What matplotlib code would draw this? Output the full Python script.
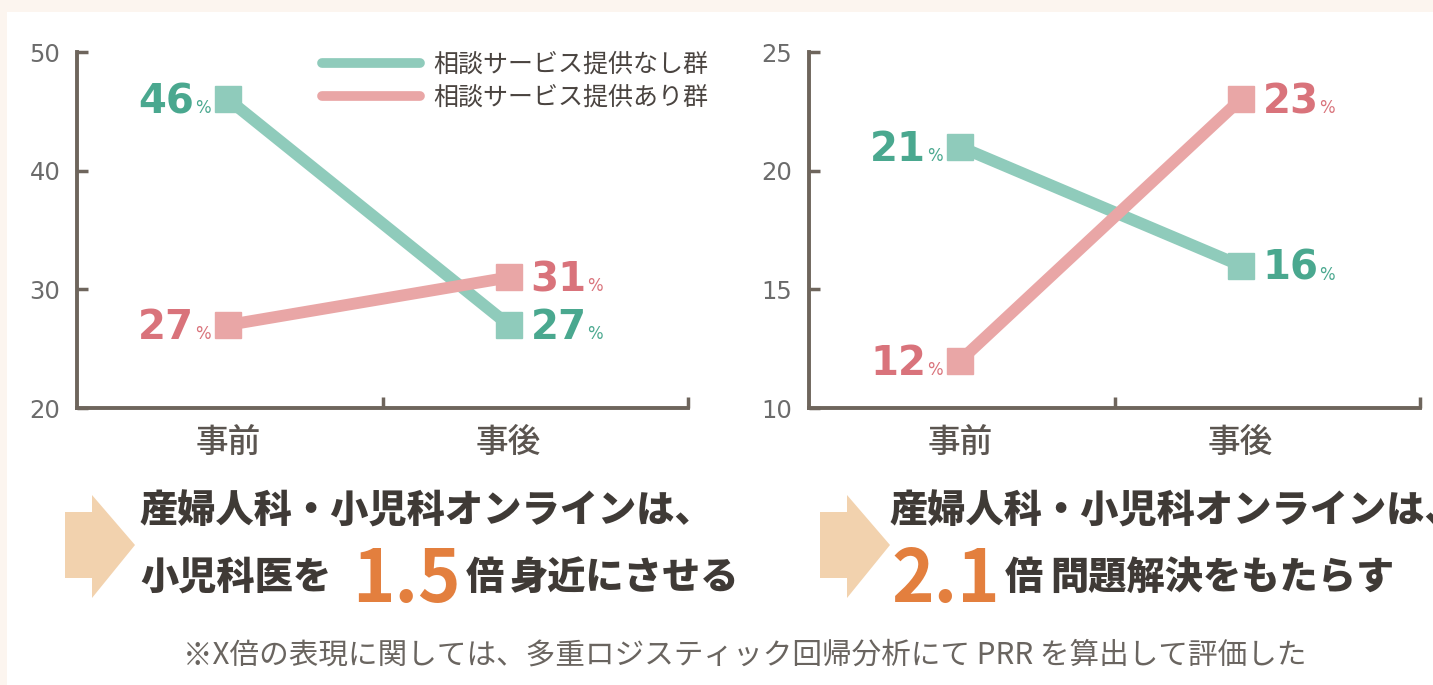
import matplotlib
matplotlib.use("Agg")
import matplotlib.pyplot as plt
from matplotlib.patches import Rectangle, Polygon
from matplotlib.lines import Line2D

plt.rcParams['font.family'] = ['Noto Sans CJK JP', 'DejaVu Sans']

# data
categories = ['事前', '事後']
series_names = ['相談サービス提供なし群', '相談サービス提供あり群']
left_none = [46, 27]     # 小児科医を身近に
left_with = [27, 31]
right_none = [21, 16]    # 問題解決
right_with = [12, 23]
left_ylim = (20, 50)
left_yticks = [20, 30, 40, 50]
right_ylim = (10, 25)
right_yticks = [10, 15, 20, 25]

TEAL = '#8fcbbb'
TEAL_TXT = '#4aa88f'
PINK = '#e9a6a6'
PINK_TXT = '#d9737b'
AXC = '#6e655c'
ORANGE = '#e37f3e'
DARK = '#3f3a36'

W, H = 1433, 685
fig = plt.figure(figsize=(W / 100, H / 100), dpi=100, facecolor='#fcf5ef')
fig.add_artist(Rectangle((7 / W, 0), 1, 1 - 12 / H, transform=fig.transFigure,
                         facecolor='white', edgecolor='none', zorder=-10))


def fx(x):
    return x / W


def fy(y):
    return 1 - y / H


def label(ax, x, y, val, color, side):
    if side == 'left':
        ax.annotate('%', (x, y), xytext=(-18, -14), textcoords='offset pixels',
                    ha='right', va='baseline', color=color, fontsize=12,
                    family='DejaVu Sans')
        ax.annotate(str(val), (x, y), xytext=(-34, -14), textcoords='offset pixels',
                    ha='right', va='baseline', color=color, fontsize=29,
                    fontweight='bold', family='DejaVu Sans')
    else:
        ax.annotate(str(val), (x, y), xytext=(22, -14), textcoords='offset pixels',
                    ha='left', va='baseline', color=color, fontsize=29,
                    fontweight='bold', family='DejaVu Sans')
        ax.annotate('%', (x, y), xytext=(79, -14), textcoords='offset pixels',
                    ha='left', va='baseline', color=color, fontsize=12,
                    family='DejaVu Sans')


def panel(x0, none_vals, with_vals, ylim, yticks):
    ax = fig.add_axes([fx(x0), fy(408), fx(611), 356 / H])
    ax.set_facecolor('none')
    xs = [0, 1]
    ax.plot(xs, none_vals, color=TEAL, lw=8.5, marker='s', ms=18.5,
            solid_capstyle='butt', zorder=3)
    ax.plot(xs, with_vals, color=PINK, lw=8.5, marker='s', ms=18.5,
            solid_capstyle='butt', zorder=4)
    ax.set_xlim(-0.54, 1.64)
    ax.set_ylim(*ylim)
    ax.set_yticks(yticks)
    ax.set_xticks(xs)
    ax.set_xticklabels(categories, fontsize=23.5, color='#5b5550', fontweight='medium')
    ax.set_xticks([0.55, 1.64], minor=True)
    ax.tick_params(axis='x', which='major', length=0, pad=12)
    ax.tick_params(axis='x', which='minor', length=8, width=2.5, color=AXC,
                   direction='in')
    ax.tick_params(axis='y', length=8, width=2.5, color=AXC, direction='in',
                   labelsize=17.5, labelcolor='#6b6b6b', pad=12)
    for t in ax.get_yticklabels():
        t.set_family('DejaVu Sans')
    for s in ['top', 'right']:
        ax.spines[s].set_visible(False)
    for s in ['left', 'bottom']:
        ax.spines[s].set_color(AXC)
        ax.spines[s].set_linewidth(2.8)
    ax.spines['left'].set_bounds(*ylim)
    ax.spines['bottom'].set_bounds(-0.54, 1.64)
    for i in xs:
        side = 'left' if i == 0 else 'right'
        label(ax, i, none_vals[i], none_vals[i], TEAL_TXT, side)
        label(ax, i, with_vals[i], with_vals[i], PINK_TXT, side)
    for a in ax.get_children():
        if hasattr(a, 'set_clip_on'):
            a.set_clip_on(False)
    return ax


axl = panel(77, left_none, left_with, left_ylim, left_yticks)
axr = panel(809, right_none, right_with, right_ylim, right_yticks)

handles = [Line2D([], [], color=TEAL, lw=7, solid_capstyle='round'),
           Line2D([], [], color=PINK, lw=7, solid_capstyle='round')]
axl.legend(handles, series_names, loc='upper left',
           bbox_to_anchor=(fx(322), fy(52)), bbox_transform=fig.transFigure,
           frameon=False, borderaxespad=0, borderpad=0, fontsize=18,
           handlelength=3.9, handletextpad=0.55, labelspacing=0.28,
           labelcolor='#4a4440')

# arrows
for dx in [0, 755]:
    pts = [(65, 512), (92, 512), (92, 495), (135, 545), (92, 598), (92, 578), (65, 578)]
    fig.add_artist(Polygon([(fx(x + dx), fy(y)) for x, y in pts], closed=True,
                           transform=fig.transFigure, facecolor='#f2d2ae',
                           edgecolor='none'))

# headline texts
bold = dict(fontweight='heavy', color=DARK, fontsize=27.5, va='center', ha='left')
fig.text(fx(140), fy(512), '産婦人科・小児科オンラインは、', **bold)
fig.text(fx(890), fy(512), '産婦人科・小児科オンラインは、', **bold)
fig.text(fx(140), fy(578), '小児科医を', **bold)
fig.text(fx(352), fy(602), '1.5', fontweight='bold', color=ORANGE, fontsize=52,
         va='baseline', ha='left')
fig.text(fx(466), fy(578), '倍', **bold)
fig.text(fx(510), fy(578), '身近にさせる', **bold)
fig.text(fx(891), fy(602), '2.1', fontweight='bold', color=ORANGE, fontsize=52,
         va='baseline', ha='left')
fig.text(fx(1005), fy(578), '倍', **bold)
fig.text(fx(1050), fy(578), '問題解決をもたらす', **bold)

fig.text(fx(745), fy(655), '※X倍の表現に関しては、多重ロジスティック回帰分析にて PRR を算出して評価した',
         fontsize=21.3, color='#6a6560', ha='center', va='center')

fig.savefig('out.png', dpi=100, facecolor=fig.get_facecolor())
